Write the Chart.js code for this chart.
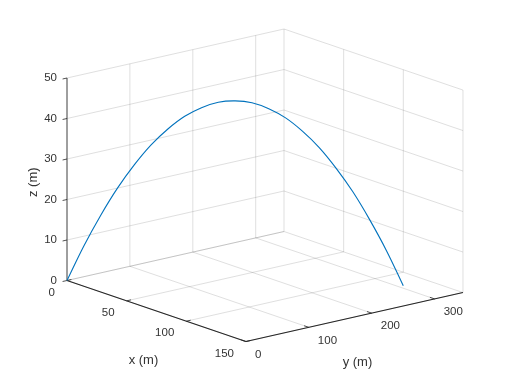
<!DOCTYPE html>
<html>
<head>
<meta charset="utf-8">
<script src="https://cdn.jsdelivr.net/npm/chart.js@4/dist/chart.umd.min.js"></script>
<style>
html,body{margin:0;padding:0;background:#fff;}
canvas{display:block;}
</style>
</head>
<body>
<canvas id="c" width="512" height="384"></canvas>
<script>
// ---- data ----
const trajX = [0, 6, 12, 18, 24, 30, 36, 42, 48, 54, 60, 66, 72, 78, 84, 90, 96, 102, 108, 114, 120];
const trajY = [0, 15.4, 30.7, 46.1, 61.4, 76.8, 92.1, 107.5, 122.8, 138.2, 153.5, 168.9, 184.2, 199.6, 214.9, 230.3, 245.6, 261.0, 276.3, 291.7, 307];
const trajZ = [0, 8.6, 16.2, 23.0, 28.8, 33.8, 37.8, 41.0, 43.2, 44.6, 45.0, 44.6, 43.2, 41.0, 37.8, 33.8, 28.8, 23.0, 16.2, 8.6, 0];

const xTicks = [0, 50, 100, 150];
const yTicks = [0, 100, 200, 300];
const zTicks = [0, 10, 20, 30, 40, 50];
const xLim = [0, 150];
const yLim = [0, 345];
const zLim = [0, 50];
const xLabel = 'x (m)', yLabel = 'y (m)', zLabel = 'z (m)';

// ---- view (orthographic projection onto the view plane) ----
const VIEW = {u0: 67, v0: 280.5, ux: 1.193, uy: 0.629, vx: 0.407, vy: -0.142, vz: -4.05};
function proj(x, y, z) {
  return {x: VIEW.u0 + VIEW.ux * x + VIEW.uy * y,
          y: VIEW.v0 + VIEW.vx * x + VIEW.vy * y + VIEW.vz * z};
}

const GRID = 'rgba(38,38,38,0.15)';
const AXIS = '#262626';
const datasets = [];

function seg(a, b, color, width) {
  datasets.push({data: [proj(...a), proj(...b)], borderColor: color, borderWidth: width,
                 showLine: true, pointRadius: 0, tension: 0, fill: false});
}

// trajectory (first = drawn on top)
datasets.push({
  data: trajX.map((x, i) => proj(x, trajY[i], trajZ[i])),
  borderColor: '#0072BD', borderWidth: 1.1, showLine: true, pointRadius: 0,
  tension: 0.4, fill: false
});

// axis lines and ticks
seg([xLim[0], yLim[0], zLim[0]], [xLim[1], yLim[0], zLim[0]], AXIS, 1.1);
seg([xLim[1], yLim[0], zLim[0]], [xLim[1], yLim[1], zLim[0]], AXIS, 1.1);
seg([xLim[0], yLim[0], zLim[0]], [xLim[0], yLim[0], zLim[1]], AXIS, 0.8);
zTicks.forEach(t => seg([0, 0, t], [0, -7, t], AXIS, 0.8));
xTicks.forEach(t => seg([t, 0, 0], [t, 7, 0], AXIS, 0.8));
yTicks.forEach(t => seg([xLim[1], t, 0], [xLim[1] - 4, t, 0], AXIS, 0.8));

// grid: floor
xTicks.forEach(t => seg([t, yLim[0], zLim[0]], [t, yLim[1], zLim[0]], GRID, 1));
yTicks.forEach(t => seg([xLim[0], t, zLim[0]], [xLim[1], t, zLim[0]], GRID, 1));
// grid: wall x = 0
yTicks.forEach(t => seg([xLim[0], t, zLim[0]], [xLim[0], t, zLim[1]], GRID, 1));
zTicks.forEach(t => seg([xLim[0], yLim[0], t], [xLim[0], yLim[1], t], GRID, 1));
// grid: wall y = ymax
xTicks.forEach(t => seg([t, yLim[1], zLim[0]], [t, yLim[1], zLim[1]], GRID, 1));
zTicks.forEach(t => seg([xLim[0], yLim[1], t], [xLim[1], yLim[1], t], GRID, 1));

const labelPlugin = {
  id: 'labels3d',
  afterDraw(chart) {
    const ctx = chart.ctx, sx = chart.scales.x, sy = chart.scales.y;
    const px = p => ({x: sx.getPixelForValue(p.x), y: sy.getPixelForValue(p.y)});
    ctx.save();
    ctx.fillStyle = '#333333';
    ctx.font = '11.5px "Liberation Sans", Arial, sans-serif';
    ctx.textBaseline = 'middle';
    ctx.textAlign = 'right';
    zTicks.forEach(t => { const p = px(proj(0, 0, t)); ctx.fillText(String(t), p.x - 10, p.y); });
    xTicks.forEach(t => { const p = px(proj(t, 0, 0)); ctx.fillText(String(t), p.x - 12, p.y + 12); });
    ctx.textAlign = 'left';
    yTicks.forEach(t => { const p = px(proj(xLim[1], t, 0)); ctx.fillText(String(t), p.x + 9, p.y + 13); });
    ctx.textAlign = 'center';
    ctx.font = '13px "Liberation Sans", Arial, sans-serif';
    const xm = px(proj((xLim[0] + xLim[1]) / 2, 0, 0));
    ctx.fillText(xLabel, xm.x - 13, xm.y + 49);
    const ym = px(proj(xLim[1], (yLim[0] + yLim[1]) / 2, 0));
    ctx.fillText(yLabel, ym.x + 3, ym.y + 45);
    const zm = px(proj(0, 0, (zLim[0] + zLim[1]) / 2));
    ctx.translate(zm.x - 34, zm.y + 3);
    ctx.rotate(-Math.PI / 2);
    ctx.fillText(zLabel, 0, 0);
    ctx.restore();
  }
};

new Chart(document.getElementById('c'), {
  type: 'scatter',
  data: {datasets},
  options: {
    responsive: false,
    animation: false,
    layout: {padding: 0},
    plugins: {legend: {display: false}, tooltip: {enabled: false}},
    scales: {
      x: {type: 'linear', min: 0, max: 512, display: false},
      y: {type: 'linear', min: 0, max: 384, reverse: true, display: false}
    }
  },
  plugins: [labelPlugin]
});
</script>
</body>
</html>
